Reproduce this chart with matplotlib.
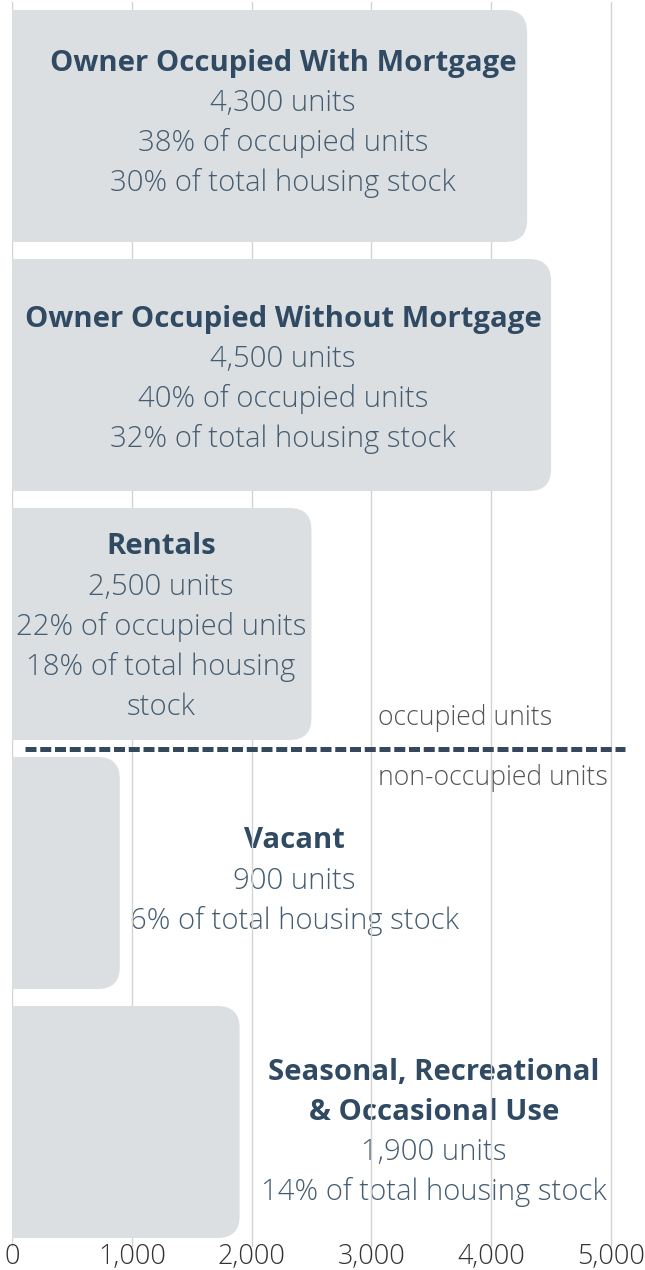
import matplotlib
matplotlib.use("Agg")
import matplotlib.pyplot as plt
from matplotlib.patches import FancyBboxPatch

# ---------------- data ----------------
categories = ["Owner Occupied With Mortgage",
              "Owner Occupied Without Mortgage",
              "Rentals",
              "Vacant",
              "Seasonal, Recreational & Occasional Use"]
units = [4300, 4500, 2500, 900, 1900]
pct_occupied = [38, 40, 22, None, None]
pct_total = [30, 32, 18, 6, 14]
xticks = [0, 1000, 2000, 3000, 4000, 5000]
xtick_labels = ["0", "1,000", "2,000", "3,000", "4,000", "5,000"]
divider_labels = ["occupied units", "non-occupied units"]

# ---------------- layout ----------------
W, H, DPI = 6.45, 12.70, 100
px_per_unit_x = 119.8 / 1000.0
x0_px = 12
xmax = 5200
band_px = 249
top_px = 1.5

label_x = [2262, 2262, 1244, 2354, 3523]          # data x of label block centre
block_offset_px = [-3, 4, 3, 8, 10]               # vertical shift of label block
line_px = 40
wrap_title = {4: ["Seasonal, Recreational", "& Occasional Use"]}
wrap_total = {2: ["18% of total housing", "stock"]}

BAR = "#dcdfe1"
DARK = "#2f4a62"
LIGHT = "#455c71"
GRID = "#d3d3d3"

plt.rcParams['font.family'] = ['Open Sans', 'DejaVu Sans']

fig = plt.figure(figsize=(W, H), dpi=DPI)
ax_left = x0_px / (W * DPI)
ax_w = xmax * px_per_unit_x / (W * DPI)
n = len(categories)
ax_h = n * band_px / (H * DPI)
ax_bottom = 1 - (top_px + n * band_px) / (H * DPI)
ax = fig.add_axes([ax_left, ax_bottom, ax_w, ax_h])

ax.set_xlim(0, xmax)
ax.set_ylim(n - 0.5, -0.5)

ypos = list(range(n))
bars = ax.barh(ypos, units, height=232 / band_px, color=BAR, zorder=2)

# replace bars by rounded versions (left corners clipped by the axes edge)
r_px = 22
r_x = r_px / px_per_unit_x
r_y = r_px / band_px
for b in bars:
    bx, by = b.get_x(), b.get_y()
    bw, bh = b.get_width(), b.get_height()
    patch = FancyBboxPatch((bx - r_x * 2, by), bw + r_x * 2, bh,
                           boxstyle=f"round,pad=0,rounding_size={r_x}",
                           mutation_aspect=r_y / r_x,
                           facecolor=BAR, edgecolor="none", zorder=2)
    ax.add_patch(patch)
    b.set_visible(False)

# grid
ax.set_xticks(xticks)
ax.set_xticklabels(xtick_labels)
ax.set_yticks([])
ax.xaxis.grid(True, color=GRID, linewidth=1.0)
ax.set_axisbelow(True)
for s in ax.spines.values():
    s.set_visible(False)
ax.tick_params(axis='x', length=0, pad=-2.5, labelsize=19.5, labelcolor="#333333")
for t in ax.get_xticklabels():
    t.set_fontweight('light')

# labels
pt_per_px = 72.0 / DPI
for i in range(n):
    title = wrap_title.get(i, [categories[i]])
    rest = [f"{units[i]:,} units"]
    if pct_occupied[i] is not None:
        rest.append(f"{pct_occupied[i]}% of occupied units")
    rest += wrap_total.get(i, [f"{pct_total[i]}% of total housing stock"])
    lines = [(t, 'bold') for t in title] + [(t, 'light') for t in rest]
    inside = label_x[i] < units[i]
    m = len(lines)
    for j, (txt, wt) in enumerate(lines):
        off_px = block_offset_px[i] + (j - (m - 1) / 2) * line_px
        ax.annotate(txt, xy=(label_x[i], ypos[i]), xytext=(0, -off_px * pt_per_px),
                    textcoords='offset points', ha='center', va='center',
                    fontsize=21.1, fontweight=wt,
                    color=DARK if wt == 'bold' else LIGHT,
                    zorder=3 if inside else 0.3)

# divider between occupied and non-occupied
ax.plot([108, 5117], [2.5, 2.5], color="#34495e", linewidth=3.6,
        linestyle=(0, (2.2, 0.75)), solid_capstyle='butt', dash_capstyle='butt', zorder=4)
ax.annotate(divider_labels[0], xy=(3055, 2.5), xytext=(0, 16 * pt_per_px),
            textcoords='offset points', ha='left', va='bottom',
            fontsize=19.2, fontweight='light', color="#555555", zorder=0.3)
ax.annotate(divider_labels[1], xy=(3055, 2.5), xytext=(0, -16 * pt_per_px),
            textcoords='offset points', ha='left', va='top',
            fontsize=19.2, fontweight='light', color="#555555", zorder=0.3)

fig.savefig("out.png", dpi=DPI)
